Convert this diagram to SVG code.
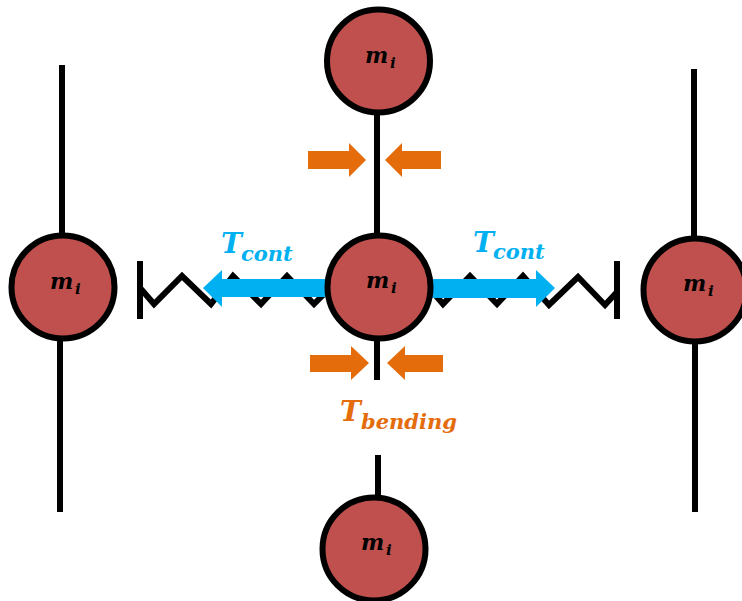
<svg xmlns="http://www.w3.org/2000/svg" width="742" height="601" viewBox="0 0 742 601">
<defs><style>
.m{fill:#c0504d;stroke:#000;stroke-width:6}
.l{font-family:"DejaVu Serif","Liberation Serif",serif;font-style:italic;font-weight:bold}
.mt{font-size:22px;fill:#000}
.mi{font-size:15px;fill:#000}
.b{fill:none;stroke:#000;stroke-width:6}
.z{fill:none;stroke:#000;stroke-width:6;stroke-linejoin:miter}
.blue{fill:#00b0f0}
.or{fill:#e46c0a}
.tb{fill:#00b0f0}
.to{fill:#e46c0a}
</style></defs>
<rect width="742" height="601" fill="#fff"/>
<g id="connectors">
<path class="b" d="M62 65V236M60 340V512M377 112V236M377 338V380M378 455V500M694 69V240M695 342V512"/>
<path class="b" d="M140 261V319M617 261V319"/>
<path class="z" d="M141 289L154 304L182 276L211 304L233 276L261 304L287 276L314 304L328 290"/>
<path class="z" d="M431 290L443 304L470 276L497 304L523 276L549 305L578 277L605 305L617 292"/>
</g>
<g id="force-arrows">
<path class="blue" d="M327 279H222V270L203 288L222 307V297H327Z"/>
<path class="blue" d="M431 279H536V270L555 288L536 307V298H431Z"/>
<path class="or" d="M308 151H349V143L366 160L349 177V169H308Z"/>
<path class="or" d="M441 151H402V143L385 160L402 177V169H441Z"/>
<path class="or" d="M310 355H351V346L369 363L351 380V372H310Z"/>
<path class="or" d="M443 355H405V346L387 363L405 380V372H443Z"/>
</g>
<g id="node-top"><circle class="m" cx="378.500" cy="61" r="51.500"/><text class="l mt" x="365" y="63">m</text><text class="l mi" x="390" y="68">i</text></g>
<g id="node-center"><circle class="m" cx="379" cy="287" r="51.500"/><text class="l mt" x="366" y="288">m</text><text class="l mi" x="391" y="293">i</text></g>
<g id="node-left"><circle class="m" cx="63" cy="287" r="51.500"/><text class="l mt" x="50" y="289">m</text><text class="l mi" x="75" y="294">i</text></g>
<g id="node-right"><circle class="m" cx="695" cy="290" r="51.500"/><text class="l mt" x="683" y="291">m</text><text class="l mi" x="708" y="296">i</text></g>
<g id="node-bottom"><circle class="m" cx="374" cy="549" r="51.500"/><text class="l mt" x="361" y="550">m</text><text class="l mi" x="386" y="555">i</text></g>
<g id="labels">
<text class="l tb" x="221" y="253" font-size="28">T</text><text class="l tb" x="241" y="261" font-size="21">cont</text>
<text class="l tb" x="473" y="252" font-size="28">T</text><text class="l tb" x="493" y="259" font-size="21">cont</text>
<text class="l to" x="340" y="421" font-size="28">T</text><text class="l to" x="361" y="429" font-size="21">bending</text>
</g>
</svg>
